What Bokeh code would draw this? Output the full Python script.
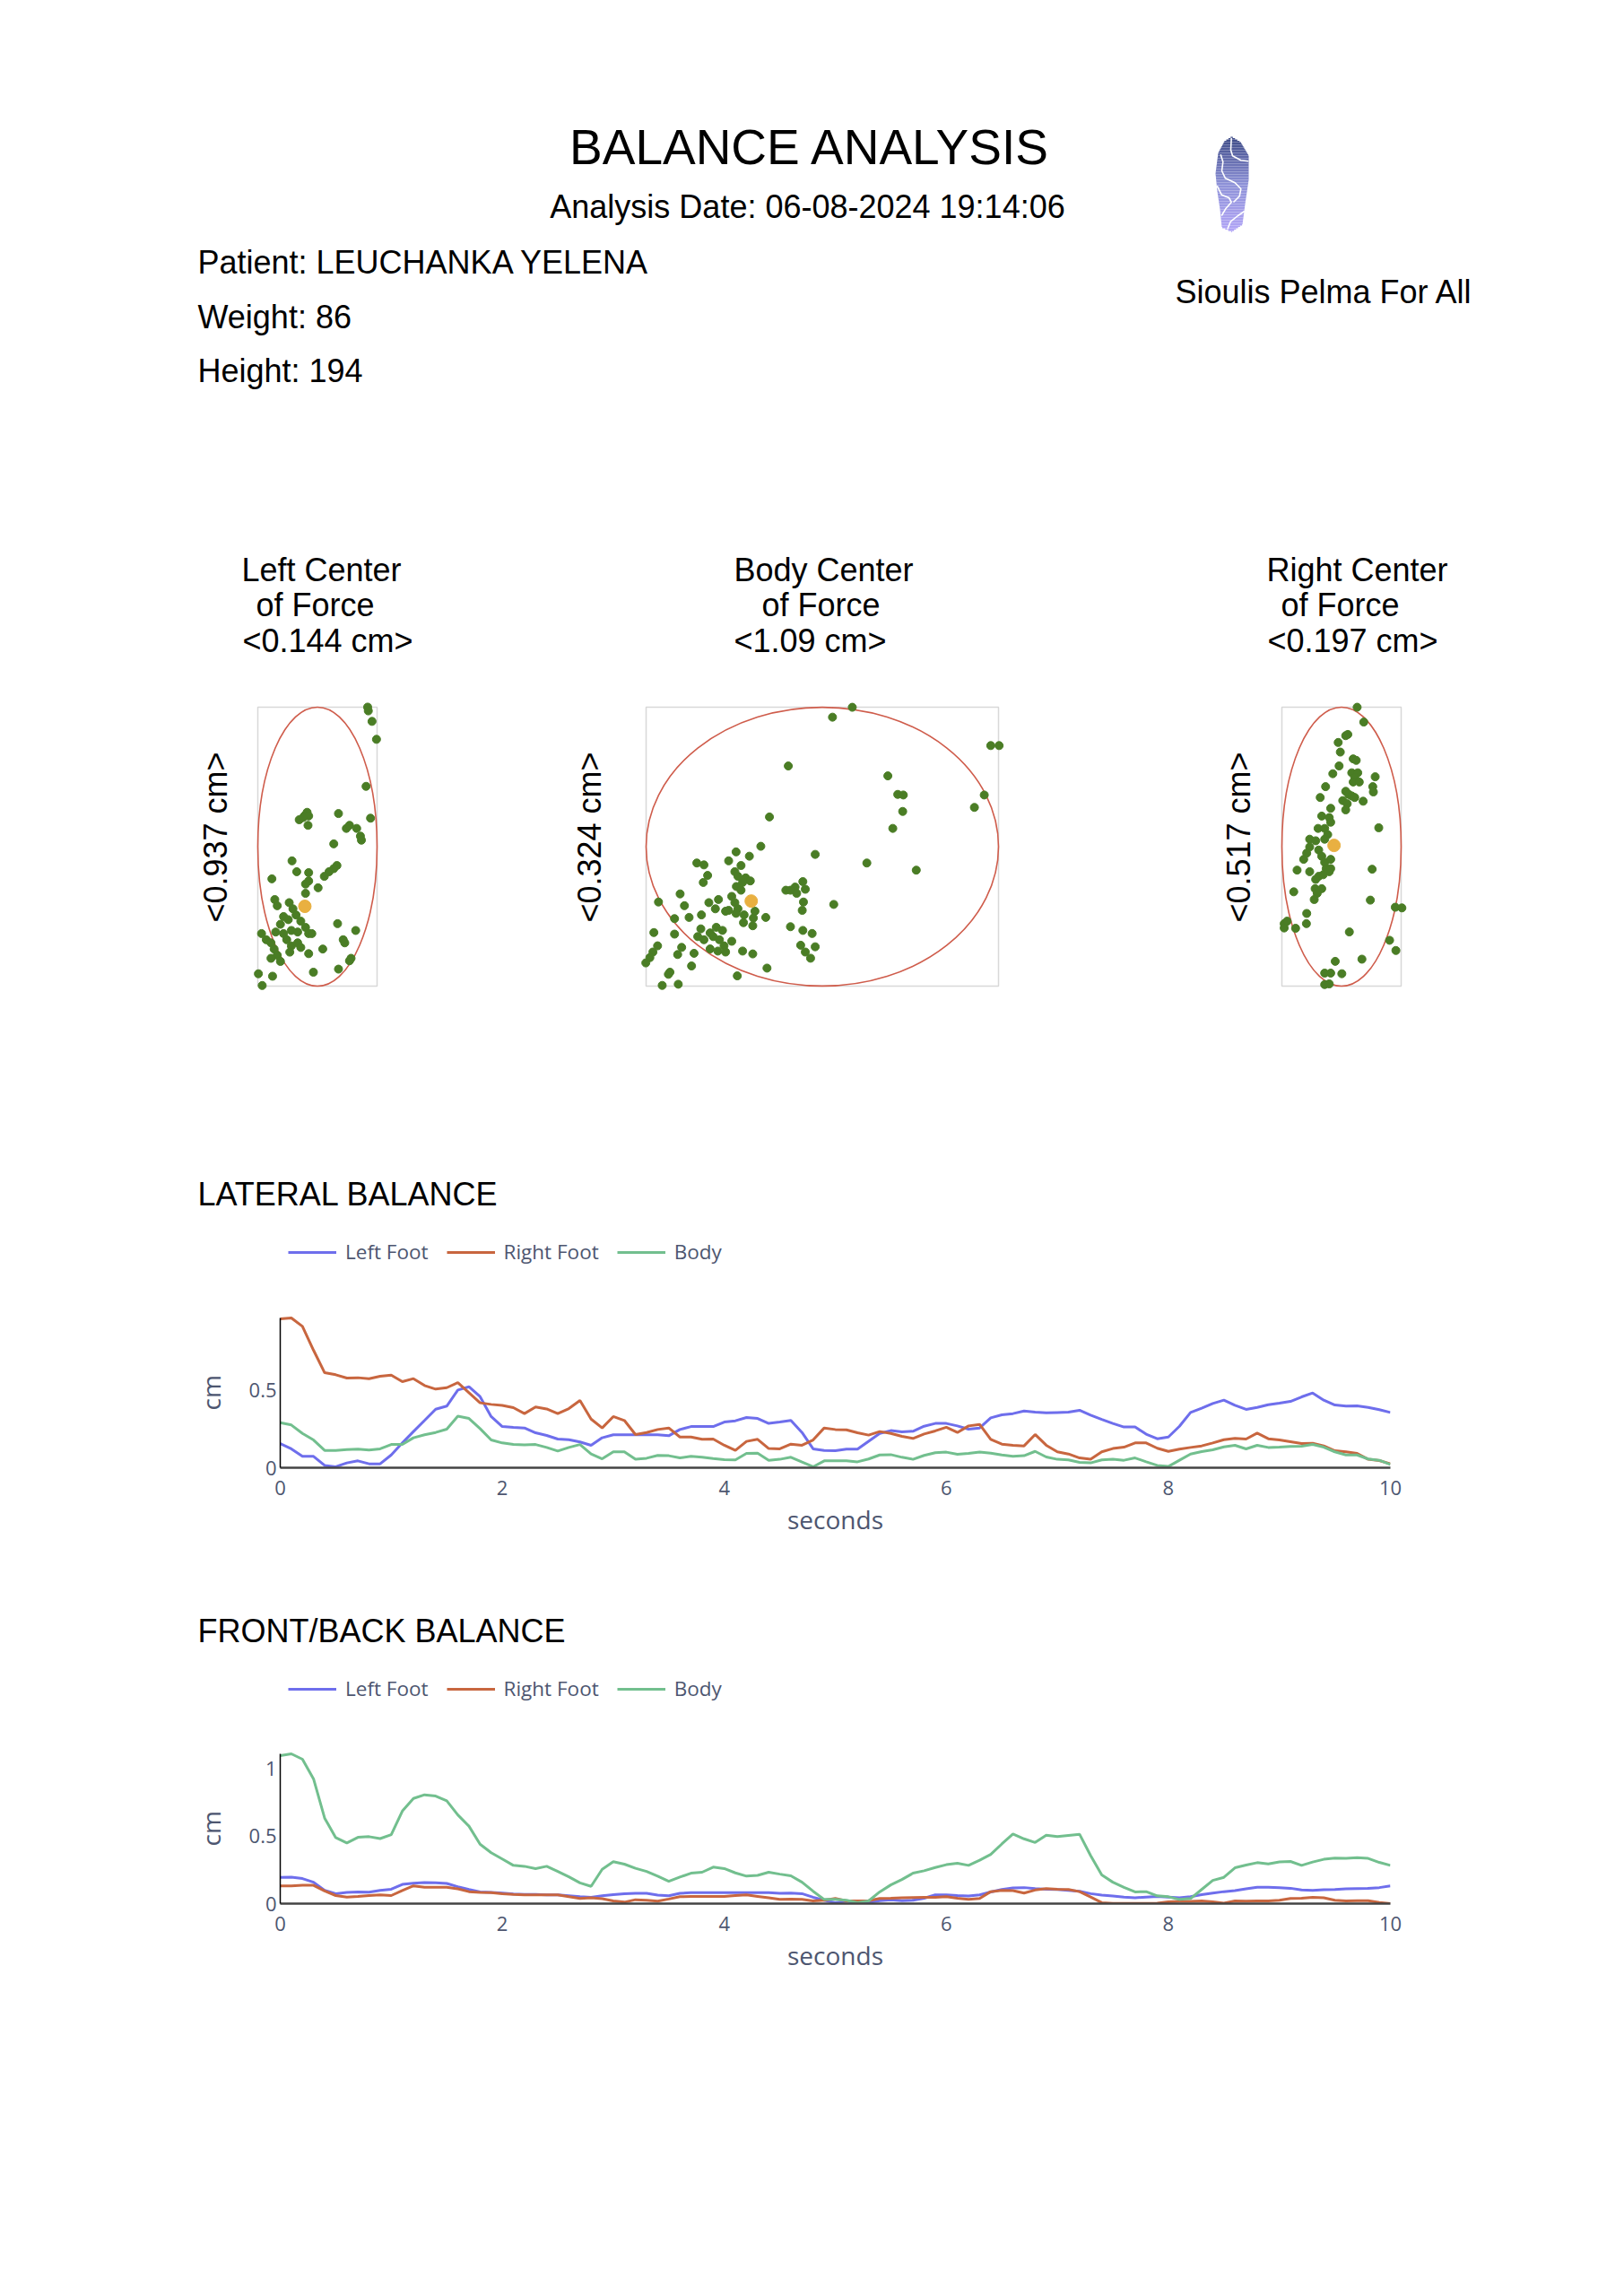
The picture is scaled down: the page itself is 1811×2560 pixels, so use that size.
import numpy as np
from bokeh.plotting import figure
from bokeh.models import Range1d, Legend, LegendItem, FixedTicker, NumeralTickFormatter, Title
from bokeh.layouts import column
from bokeh.core.properties import value
from bokeh.embed import file_html
from bokeh.resources import INLINE

# ---------------- data ----------------
report_title = "BALANCE ANALYSIS"
analysis_date = "Analysis Date: 06-08-2024 19:14:06"
patient_lines = ["Patient: LEUCHANKA YELENA", "Weight: 86", "Height: 194"]
brand = "Sioulis Pelma For All"
section_titles = ["LATERAL BALANCE", "FRONT/BACK BALANCE"]

series_names = ["Left Foot", "Right Foot", "Body"]
seconds = [round(i * 0.1, 1) for i in range(101)]
x_ticks = [0, 2, 4, 6, 8, 10]

lat_left = [0.155, 0.121, 0.073, 0.073, 0.015, 0.006, 0.031, 0.044, 0.025, 0.025,
            0.082, 0.159, 0.232, 0.303, 0.375, 0.395, 0.498, 0.519, 0.456, 0.328,
            0.264, 0.259, 0.255, 0.224, 0.207, 0.184, 0.180, 0.165, 0.144, 0.192,
            0.211, 0.211, 0.211, 0.211, 0.211, 0.205, 0.245, 0.264, 0.264, 0.264,
            0.293, 0.301, 0.322, 0.316, 0.284, 0.293, 0.303, 0.226, 0.121, 0.111,
            0.109,
            0.119, 0.119, 0.170, 0.220, 0.238, 0.230, 0.234, 0.266, 0.284, 0.284,
            0.268, 0.247, 0.255, 0.320, 0.339, 0.347, 0.364, 0.356, 0.352, 0.354,
            0.356, 0.368, 0.337, 0.310, 0.284, 0.261, 0.261, 0.215, 0.186, 0.197,
            0.266, 0.354, 0.381, 0.412, 0.433, 0.400, 0.374, 0.387, 0.404, 0.414,
            0.425, 0.454, 0.479, 0.433, 0.402, 0.395, 0.397, 0.387, 0.372, 0.354]
lat_right = [0.954, 0.960, 0.906, 0.753, 0.609, 0.596, 0.575, 0.577, 0.571, 0.586,
             0.594, 0.552, 0.571, 0.527, 0.504, 0.513, 0.546, 0.481, 0.416, 0.406,
             0.400, 0.385, 0.347, 0.389, 0.377, 0.347, 0.379, 0.431, 0.312, 0.255,
             0.328, 0.303, 0.213, 0.226, 0.245, 0.255, 0.197, 0.197, 0.182, 0.184,
             0.144, 0.111, 0.169, 0.182, 0.123, 0.121, 0.151, 0.144, 0.178, 0.255,
             0.245,
             0.243, 0.224, 0.209, 0.232, 0.220, 0.201, 0.188, 0.216, 0.236, 0.259,
             0.226, 0.268, 0.278, 0.182, 0.151, 0.144, 0.140, 0.213, 0.144, 0.102,
             0.088, 0.063, 0.054, 0.102, 0.123, 0.132, 0.159, 0.159, 0.125, 0.105,
             0.119, 0.130, 0.140, 0.159, 0.180, 0.188, 0.184, 0.222, 0.186, 0.178,
             0.167, 0.155, 0.157, 0.140, 0.109, 0.102, 0.092, 0.054, 0.046, 0.025]
lat_body = [0.289, 0.274, 0.220, 0.178, 0.111, 0.111, 0.117, 0.119, 0.113, 0.121,
            0.149, 0.149, 0.192, 0.211, 0.226, 0.247, 0.331, 0.316, 0.251, 0.178,
            0.159, 0.149, 0.146, 0.149, 0.130, 0.107, 0.130, 0.149, 0.088, 0.057,
            0.102, 0.102, 0.054, 0.061, 0.079, 0.077, 0.063, 0.073, 0.067, 0.059,
            0.052, 0.050, 0.092, 0.094, 0.048, 0.054, 0.067, 0.036, 0.006, 0.044,
            0.044,
            0.044, 0.038, 0.056, 0.082, 0.084, 0.067, 0.054, 0.079, 0.096, 0.100,
            0.086, 0.092, 0.100, 0.094, 0.082, 0.073, 0.077, 0.105, 0.069, 0.054,
            0.050, 0.034, 0.031, 0.050, 0.054, 0.048, 0.063, 0.038, 0.015, 0.008,
            0.048, 0.088, 0.103, 0.115, 0.134, 0.144, 0.121, 0.144, 0.130, 0.132,
            0.136, 0.138, 0.149, 0.132, 0.102, 0.082, 0.082, 0.056, 0.048, 0.021]

fb_left = [0.195, 0.197, 0.186, 0.159, 0.098, 0.074, 0.083, 0.087, 0.085, 0.098,
           0.107, 0.143, 0.152, 0.157, 0.154, 0.150, 0.125, 0.105, 0.087, 0.083,
           0.078, 0.072, 0.069, 0.069, 0.065, 0.065, 0.058, 0.051, 0.047, 0.058,
           0.067, 0.074, 0.076, 0.076, 0.063, 0.058, 0.076, 0.081, 0.081, 0.081,
           0.081, 0.081, 0.081, 0.081, 0.081, 0.076, 0.078, 0.074, 0.047, 0.025,
           0.007,
           0.018, 0.007, 0.009, 0.022, 0.029, 0.022, 0.025, 0.040, 0.065, 0.065,
           0.060, 0.056, 0.065, 0.087, 0.105, 0.116, 0.119, 0.112, 0.107, 0.105,
           0.098, 0.092, 0.074, 0.063, 0.056, 0.049, 0.043, 0.049, 0.054, 0.049,
           0.043, 0.051, 0.067, 0.078, 0.089, 0.096, 0.110, 0.121, 0.121, 0.119,
           0.114, 0.101, 0.098, 0.103, 0.105, 0.110, 0.112, 0.114, 0.119, 0.132]
fb_right = [0.132, 0.132, 0.136, 0.136, 0.094, 0.060, 0.049, 0.054, 0.060, 0.065,
            0.060, 0.098, 0.132, 0.121, 0.121, 0.121, 0.110, 0.089, 0.083, 0.081,
            0.074, 0.069, 0.065, 0.065, 0.065, 0.065, 0.051, 0.038, 0.043, 0.036,
            0.020, 0.011, 0.029, 0.025, 0.018, 0.034, 0.051, 0.054, 0.054, 0.054,
            0.054, 0.060, 0.065, 0.054, 0.043, 0.031, 0.034, 0.031, 0.020, 0.025,
            0.038,
            0.020, 0.020, 0.022, 0.038, 0.040, 0.043, 0.045, 0.047, 0.047, 0.051,
            0.040, 0.031, 0.038, 0.089, 0.098, 0.096, 0.078, 0.101, 0.112, 0.107,
            0.105, 0.089, 0.049, 0.007, 0.002, 0.002, 0.002, 0.002, 0.004, 0.013,
            0.016, 0.016, 0.020, 0.013, 0.004, 0.020, 0.018, 0.020, 0.020, 0.025,
            0.038, 0.040, 0.047, 0.043, 0.025, 0.020, 0.022, 0.022, 0.009, 0.000]
fb_body = [1.098, 1.112, 1.072, 0.926, 0.635, 0.490, 0.450, 0.492, 0.497, 0.483,
           0.512, 0.687, 0.781, 0.808, 0.799, 0.763, 0.658, 0.575, 0.441, 0.378,
           0.331, 0.284, 0.277, 0.260, 0.277, 0.239, 0.199, 0.154, 0.128, 0.255,
           0.311, 0.293, 0.262, 0.239, 0.204, 0.166, 0.197, 0.226, 0.233, 0.271,
           0.260, 0.228, 0.204, 0.210, 0.233, 0.219, 0.206, 0.159, 0.092, 0.031,
           0.031,
           0.025, 0.007, 0.020, 0.087, 0.139, 0.179, 0.226, 0.244, 0.268, 0.289,
           0.300, 0.284, 0.322, 0.365, 0.443, 0.517, 0.481, 0.454, 0.508, 0.497,
           0.506, 0.515, 0.356, 0.213, 0.159, 0.121, 0.087, 0.089, 0.058, 0.051,
           0.031, 0.038, 0.105, 0.172, 0.195, 0.266, 0.286, 0.304, 0.295, 0.309,
           0.313, 0.284, 0.309, 0.329, 0.338, 0.336, 0.342, 0.336, 0.306, 0.284]

# centre-of-force clouds (cm, relative to the centre of each sway box)
left_span = [0.144, 0.937]
left_x = [0.0606, 0.0614, 0.0659, 0.0713, 0.0587, 0.0641, -0.0125, -0.0152, -0.0220, -0.0106,
          -0.0174, -0.0114, 0.0254, 0.0349, 0.0387, 0.0474, 0.0519, 0.0531, 0.0197, -0.0307,
          -0.0250, -0.0106, 0.0235, 0.0197, 0.0140, 0.0083, -0.0106, -0.0144, 0.0008, -0.0550,
          -0.0515, -0.0485, -0.0341, -0.0296, -0.0409, -0.0352, -0.0258, -0.0201, -0.0447, -0.0504,
          -0.0409, -0.0315, -0.0144, -0.0106, -0.0239, -0.0068, -0.0675, -0.0618, -0.0561, -0.0523,
          -0.0485, -0.0561, -0.0447, -0.0371, -0.0315, -0.0239, -0.0334, -0.0201, -0.0106, 0.0064,
          0.0243, 0.0462, 0.0311, 0.0330, 0.0406, 0.0387, 0.0254, -0.0049, -0.0542, -0.0713,
          -0.0667, -0.0144]
left_y = [0.4686, 0.4561, 0.4208, 0.3605, 0.2026, 0.0956, 0.1153, 0.1049, 0.0904, 0.1029,
          0.0977, 0.0717, 0.1112, 0.0613, 0.0717, 0.0613, 0.0353, 0.0218, 0.0094, -0.0478,
          -0.0842, -0.0873, -0.0634, -0.0738, -0.0842, -0.0998, -0.1153, -0.1257, -0.1382, -0.1081,
          -0.1777, -0.1985, -0.1881, -0.2088, -0.2348, -0.2452, -0.2296, -0.2504, -0.2608, -0.2868,
          -0.2920, -0.2816, -0.2712, -0.2920, -0.2868, -0.2920, -0.2920, -0.3127, -0.3231, -0.3439,
          -0.3647, -0.3751, -0.3855, -0.3127, -0.3335, -0.3231, -0.3543, -0.3387, -0.3595, -0.3439,
          -0.2587, -0.2816, -0.3127, -0.3231, -0.3751, -0.3834, -0.4114, -0.4218, -0.4353, -0.4270,
          -0.4665, -0.1569]
left_mean = [-0.0152, -0.2005]

body_span = [1.09, 0.324]
body_x = [0.0927, 0.0315, 0.5210, 0.5468, -0.1052, 0.2027, 0.2333, 0.2505, 0.5009, 0.4704,
          0.2486, -0.1635, 0.2180, -0.1902, -0.0220, 0.1377, 0.2906, -0.2667, -0.2256, -0.2897,
          -0.3881, -0.3661, -0.3547, -0.3681, -0.2514, -0.2705, -0.2610, -0.2371, -0.2227, -0.2466,
          -0.2658, -0.2514, -0.0602, -0.0841, -0.1128, -0.0985, -0.0526, -0.0793, -0.0583, -0.0621,
          0.0354, -0.2801, -0.2705, -0.2610, -0.2897, -0.2667, -0.2084, -0.1749, -0.2419, -0.2132,
          -0.2438, -0.2151, -0.3212, -0.3509, -0.3308, -0.2992, -0.3738, -0.4120, -0.4398, -0.4264,
          -0.5067, -0.4570, -0.5210, -0.4570, -0.0985, -0.0602, -0.0315, -0.3757, -0.3470, -0.3279,
          -0.3088, -0.3375, -0.3183, -0.2801, -0.3853, -0.3661, -0.3040, -0.3470, -0.3231, -0.2992,
          -0.2466, -0.2151, -0.0669, -0.0220, -0.0526, -0.0363, -0.4350, -0.3967, -0.4474, -0.5095,
          -0.5239, -0.5334, -0.5459, -0.4044, -0.4713, -0.4761, -0.2629, -0.1711, -0.4952, -0.4455]
body_y = [0.1619, 0.1504, 0.1174, 0.1174, 0.0937, 0.0822, 0.0607, 0.0600, 0.0600, 0.0456,
          0.0409, 0.0345, 0.0212, 0.0004, -0.0090, -0.0190, -0.0273, -0.0061, -0.0111, -0.0165,
          -0.0190, -0.0212, -0.0334, -0.0416, -0.0219, -0.0291, -0.0345, -0.0363, -0.0398, -0.0416,
          -0.0463, -0.0506, -0.0406, -0.0470, -0.0506, -0.0506, -0.0495, -0.0542, -0.0643, -0.0740,
          -0.0671, -0.0578, -0.0650, -0.0722, -0.0740, -0.0775, -0.0750, -0.0822, -0.0793, -0.0829,
          -0.0883, -0.0919, -0.0614, -0.0650, -0.0722, -0.0750, -0.0793, -0.0822, -0.0549, -0.0686,
          -0.0643, -0.0836, -0.0998, -0.1016, -0.0930, -0.0973, -0.1009, -0.0955, -0.1002, -0.0937,
          -0.0973, -0.1045, -0.1081, -0.1099, -0.1045, -0.1081, -0.1152, -0.1188, -0.1213, -0.1224,
          -0.1213, -0.1246, -0.1145, -0.1163, -0.1224, -0.1296, -0.1170, -0.1239, -0.1253, -0.1152,
          -0.1224, -0.1289, -0.1350, -0.1386, -0.1458, -0.1483, -0.1501, -0.1411, -0.1612, -0.1598]
body_mean = [-0.2199, -0.0632]

right_span = [0.197, 0.517]
right_x = [0.0258, 0.0367, 0.0104, 0.0069, -0.0055, -0.0020, 0.0193, 0.0243, -0.0040, -0.0144,
           0.0169, 0.0268, 0.0218, 0.0193, 0.0293, 0.0556, 0.0516, 0.0526, -0.0263, -0.0352,
           0.0069, 0.0119, 0.0169, 0.0218, 0.0020, 0.0094, 0.0357, 0.0069, -0.0179, -0.0327,
           -0.0203, -0.0387, -0.0278, -0.0228, -0.0179, 0.0615, -0.0526, -0.0427, -0.0278, -0.0526,
           -0.0575, -0.0625, -0.0377, -0.0327, -0.0278, -0.0179, -0.0253, -0.0203, -0.0179, -0.0526,
           -0.0377, -0.0427, -0.0303, -0.0734, 0.0506, -0.0436, -0.0327, -0.0402, -0.0451, -0.0789,
           0.0476, 0.0888, 0.0997, -0.0575, -0.0580, -0.0947, -0.0898, -0.0947, -0.0759, 0.0129,
           0.0794, 0.0898, -0.0104, 0.0337, -0.0278, -0.0179, 0.0005, -0.0278, -0.0203]
right_y = [0.2584, 0.2309, 0.2080, 0.2057, 0.1931, 0.1753, 0.1627, 0.1599, 0.1496, 0.1352,
           0.1369, 0.1369, 0.1284, 0.1198, 0.1198, 0.1295, 0.1112, 0.1014, 0.1112, 0.0911,
           0.1026, 0.0968, 0.0940, 0.0911, 0.0854, 0.0796, 0.0842, 0.0682, 0.0711, 0.0567,
           0.0539, 0.0338, 0.0338, 0.0223, 0.0453, 0.0350, 0.0138, 0.0109, 0.0138, -0.0006,
           -0.0120, -0.0235, -0.0063, -0.0178, -0.0292, -0.0235, -0.0407, -0.0464, -0.0407, -0.0464,
           -0.0550, -0.0607, -0.0521, -0.0435, -0.0418, -0.0779, -0.0779, -0.0865, -0.0980, -0.0837,
           -0.0991, -0.1123, -0.1135, -0.1238, -0.1427, -0.1427, -0.1381, -0.1507, -0.1513, -0.1581,
           -0.1736, -0.1925, -0.2126, -0.2086, -0.2344, -0.2344, -0.2355, -0.2556, -0.2544]
right_mean = [-0.0124, 0.0023]

# ---------------- styling / layout constants ----------------
W = 1811
PAGE_H = 1360
HEAD_FONT = "Liberation Sans"
PLOT_FONT = "Open Sans"
AXIS_TEXT = "#4d5670"
COLORS = ["#6e6eec", "#c8663f", "#72bf8e"]
POINT = "#4a7d25"
MEAN = "#e9b041"
ELLIPSE = "#cf5c4b"
BOXC = "#d8d8d8"


def blank_fig(h):
    f = figure(width=W, height=h, x_range=Range1d(0, W), y_range=Range1d(0, h),
               output_backend="svg", toolbar_location=None, min_border=0,
               outline_line_color=None, background_fill_color="white", frame_align=False)
    f.axis.visible = False
    f.grid.visible = False
    return f


page = blank_fig(PAGE_H)


def Y(py):
    return PAGE_H - py


def txt(fig, x, y, s, size, align="left", angle=0.0):
    fig.text(x=[x], y=[y], text=[s], text_font=value(HEAD_FONT),
             text_font_size=f"{size}px", text_align=align, text_baseline="alphabetic",
             text_color="black", angle=angle)


# header (y values are the visual centre of each line, in page pixels from the top)
txt(page, 903, Y(163), report_title, 55, "center")
txt(page, 900, Y(230), analysis_date, 36, "center")
for s, py in zip(patient_lines, [292, 353, 413]):
    txt(page, 220, Y(py), s, 36)
txt(page, 1476, Y(325), brand, 36, "center")
txt(page, 220, Y(1331), section_titles[0], 36)

# logo (insole) - decorative gradient bands
left_chain_y = [152, 157, 170, 193, 213, 233, 253, 258]
left_chain_x = [1373, 1365, 1358, 1355, 1357, 1360, 1362, 1373]
right_chain_y = [152, 158, 173, 200, 227, 250, 258]
right_chain_x = [1373, 1383, 1392, 1392, 1388, 1385, 1373]
top_c = np.array([0x3d, 0x4a, 0x86])
mid_c = np.array([0x8e, 0x92, 0xd8])
bot_c = np.array([0xb3, 0xa6, 0xf7])
bl, br, bt, bb, bc = [], [], [], [], []
for yb in np.arange(152, 258, 1.5):
    ym = yb + 0.75
    f = (ym - 152) / 106
    if f < 0.5:
        c = top_c + (mid_c - top_c) * (f / 0.5)
    else:
        c = mid_c + (bot_c - mid_c) * ((f - 0.5) / 0.5)
    bl.append(float(np.interp(ym, left_chain_y, left_chain_x)))
    br.append(float(np.interp(ym, right_chain_y, right_chain_x)))
    bt.append(Y(yb))
    bb.append(Y(yb + 1.6))
    bc.append("#%02x%02x%02x" % tuple(int(v) for v in c))
page.quad(left=bl, right=br, top=bt, bottom=bb, fill_color=bc, line_color=None)
white_curves = [
    ([1372.7, 1372, 1374, 1383.3, 1391.7], [153.3, 166.7, 173.3, 178.3, 179.3]),
    ([1360.7, 1363.3, 1362, 1366, 1376.7, 1383.3, 1381.7, 1375], [171.7, 180, 190, 198.3, 203.3, 210, 218.3, 225]),
    ([1356.7, 1361.7, 1370, 1372.7, 1366.7, 1361.7], [206.7, 216.7, 220, 225, 231.7, 240]),
    ([1368.3, 1371.7, 1380, 1387.3], [255, 246.7, 240, 235]),
]
for cx, cy in white_curves:
    page.line(cx, [Y(v) for v in cy], line_color="white", line_width=1.6)

# centre-of-force panels
panels = [
    dict(name="left", box=(287, 420, 788, 1099), span=left_span, xs=left_x, ys=left_y, mean=left_mean,
         title=[("Left Center", 358), ("of Force", 351), ("<0.144 cm>", 365)],
         ylab="<0.937 cm>", ylab_x=240),
    dict(name="body", box=(720, 1113, 788, 1099), span=body_span, xs=body_x, ys=body_y, mean=body_mean,
         title=[("Body Center", 918), ("of Force", 915), ("<1.09 cm>", 903)],
         ylab="<0.324 cm>", ylab_x=657),
    dict(name="right", box=(1429, 1562, 788, 1099), span=right_span, xs=right_x, ys=right_y, mean=right_mean,
         title=[("Right Center", 1513), ("of Force", 1494), ("<0.197 cm>", 1508)],
         ylab="<0.517 cm>", ylab_x=1381),
]
ex, ey = {}, {}
for pnl in panels:
    l, r, t, b = pnl["box"]
    sx = pnl["span"][0] / (r - l)
    sy = pnl["span"][1] / (b - t)
    cxp, cyp = (l + r) / 2, (t + b) / 2
    ex[pnl["name"]] = Range1d(-cxp * sx, (W - cxp) * sx)
    ey[pnl["name"]] = Range1d(-(PAGE_H - cyp) * sy, cyp * sy)
page.extra_x_ranges = ex
page.extra_y_ranges = ey

for pnl in panels:
    n = pnl["name"]
    w, h = pnl["span"]
    kw = dict(x_range_name=n, y_range_name=n)
    page.quad(left=[-w / 2], right=[w / 2], bottom=[-h / 2], top=[h / 2],
              fill_color=None, line_color=BOXC, line_width=1.5, **kw)
    page.ellipse(x=[0], y=[0], width=[w], height=[h], fill_color=None,
                 line_color=ELLIPSE, line_width=1.6, **kw)
    page.scatter(pnl["xs"], pnl["ys"], size=9, fill_color=POINT, line_color=POINT, **kw)
    page.scatter([pnl["mean"][0]], [pnl["mean"][1]], size=14, fill_color=MEAN, line_color=MEAN, **kw)
    for (s, cx), py in zip(pnl["title"], [635, 674, 714]):
        txt(page, cx, Y(py), s, 36, "center")
    page.text(x=[pnl["ylab_x"]], y=[Y(933)], text=[pnl["ylab"]], text_font=value(HEAD_FONT),
              text_font_size="36px", text_align="center", text_baseline="middle",
              text_color="black", angle=np.pi / 2)


# ---------------- time-series panels ----------------
def ts_panel(values, y_ticks, frame_h, plot_h, legend_y):
    """frame spans the legend row too; the data band is the lower plot_h pixels."""
    y_max = max(max(v) for v in values)
    y_end = y_max * frame_h / plot_h
    bottom = 114
    p = figure(width=W, height=frame_h + bottom, x_range=Range1d(0, 10), y_range=Range1d(0, y_end),
               output_backend="svg", toolbar_location=None,
               min_border_left=312, min_border_right=W - 1550,
               min_border_top=0, min_border_bottom=bottom,
               outline_line_color=None, background_fill_color="white", frame_align=False)
    p.grid.visible = False
    items = []
    for name, vals, col in zip(series_names, values, COLORS):
        r = p.line(seconds, vals, line_color=col, line_width=3)
        items.append(LegendItem(label=name, renderers=[r]))
    leg = Legend(items=items, orientation="horizontal", location=(9, legend_y),
                 border_line_color=None, background_fill_alpha=0, padding=0, margin=0,
                 spacing=20, glyph_width=54, glyph_height=30, label_standoff=10,
                 label_text_font=PLOT_FONT, label_text_font_size="22.5px",
                 label_text_color=AXIS_TEXT)
    p.add_layout(leg)

    p.xaxis.ticker = FixedTicker(ticks=x_ticks)
    p.yaxis.ticker = FixedTicker(ticks=y_ticks)
    p.yaxis.formatter = NumeralTickFormatter(format="0.[0]")
    p.yaxis.bounds = (0, y_max)
    for ax in (p.xaxis, p.yaxis):
        ax.major_tick_line_color = None
        ax.minor_tick_line_color = None
        ax.major_label_text_font = PLOT_FONT
        ax.major_label_text_font_size = "22px"
        ax.major_label_text_color = AXIS_TEXT
        ax.axis_label_text_font = PLOT_FONT
        ax.axis_label_text_font_size = "28px"
        ax.axis_label_text_font_style = "normal"
        ax.axis_label_text_color = AXIS_TEXT
    p.xaxis.axis_label = "seconds"
    p.xaxis.axis_line_color = "#444444"
    p.xaxis.axis_line_width = 2.5
    p.yaxis.axis_line_color = "black"
    p.yaxis.axis_line_width = 1.5
    p.yaxis.major_tick_out = 0
    p.yaxis.minor_tick_out = 0
    p.xaxis.major_label_standoff = 8
    p.xaxis.axis_label_standoff = 5
    p.yaxis.major_label_standoff = 4
    # y-axis title, centred on the data band (not on the taller frame)
    p.add_layout(Title(text="cm", align="left", offset=64, standoff=41,
                       vertical_align="bottom", text_font=PLOT_FONT, text_font_size="28px",
                       text_font_style="normal", text_color=AXIS_TEXT), "left")
    return p


# lateral: figure spans page y 1360..1750, frame 1360..1636, data band 1469..1636
lat = ts_panel([lat_left, lat_right, lat_body], [0, 0.5], frame_h=276, plot_h=167, legend_y=225)

# heading strip for the second panel: page y 1750..1850
strip = blank_fig(100)
txt(strip, 220, 100 - (1818 - 1750), section_titles[1], 36)

# front/back: figure spans 1850..2236, frame 1850..2122, data band 1955..2122
fb = ts_panel([fb_left, fb_right, fb_body], [0, 0.5, 1], frame_h=272, plot_h=167, legend_y=224)

layout = column(page, lat, strip, fb)
open("out.html", "w").write(file_html(layout, INLINE))
